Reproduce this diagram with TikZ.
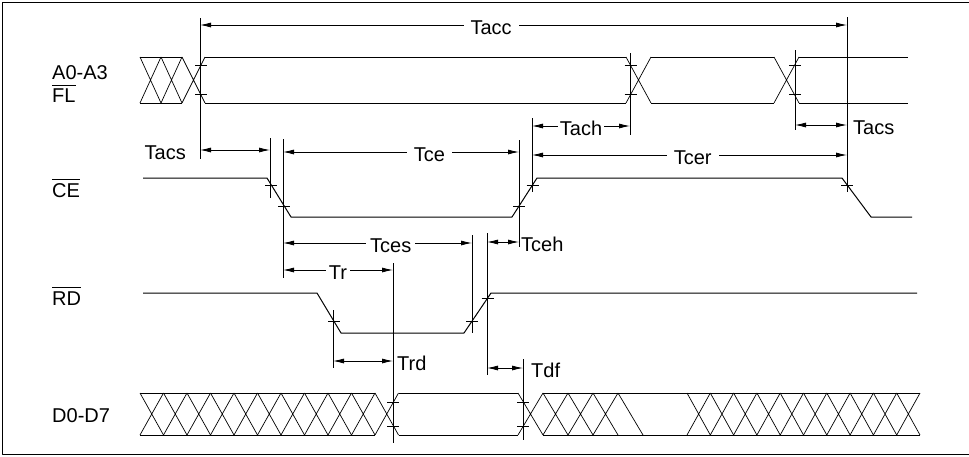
\documentclass[tikz,border=0pt]{standalone}
\usepackage{fontspec}
\setmainfont{Liberation Sans}
\usetikzlibrary{arrows.meta}
\newcommand{\barsig}[1]{\vbox{\hrule height 0.7pt\kern 3.5pt\hbox{#1}}}
\begin{document}
\begin{tikzpicture}[x=1pt, y=-1pt, line join=round,
    sig/.style={line width=1pt},
    ref/.style={line width=0.7pt},
    dim/.style={line width=0.8pt, {Latex[length=11pt,width=5pt]}-{Latex[length=11pt,width=5pt]}},
    lbl/.style={font=\fontsize{20}{24}\selectfont, inner sep=0pt},
    gap/.style={lbl, fill=white, inner xsep=7pt, yshift=-2.5pt}]
    \useasboundingbox (0,0) rectangle (969,456);
    \draw[line width=1.2pt] (972,2.5) -- (2.5,2.5) -- (2.5,454.5) -- (972,454.5);
    % signal names
    \node[lbl, anchor=base west] (a03) at (52,79) {A0-A3};
    \node[lbl, anchor=base west] (fl) at (52,102.5) {\barsig{FL}};
    \node[lbl, anchor=base west] (ce) at (52,197) {\barsig{CE}};
    \node[lbl, anchor=base west] (rd) at (52,305) {\barsig{RD}};
    \node[lbl, anchor=base west] (d07) at (52,422) {D0-D7};
    % address bus
    \draw[sig] (140,57) -- (182,57) (205,57) -- (626,57) (651,57) -- (774,57) (799,57) -- (908,57);
    \draw[sig] (140,103) -- (182,103) (205,103) -- (626,103) (651,103) -- (774,103) (799,103) -- (908,103);
    \foreach \x/\w in {140/21, 161/21, 182/23, 626/25, 774/25}
        \draw[ref] (\x,57) -- (\x+\w,103) (\x,103) -- (\x+\w,57);
    % CE and RD
    \draw[sig] (143,178) -- (267,178) -- (291,217) -- (512,217) -- (537,178) -- (842,178) -- (871,217) -- (912,217);
    \draw[sig] (143,293) -- (317,293) -- (341,333) -- (464,333) -- (491,293) -- (917,293);
    % data bus
    \draw[sig] (140,393) -- (375,393) (398.5,393) -- (518,393) (543,393) -- (920,393);
    \draw[sig] (140,435) -- (375,435) (398.5,435) -- (518,435) (543,435) -- (920,435);
    \foreach \i in {0,...,9}
        \draw[ref] (140+\i*23.5,393) -- (163.5+\i*23.5,435) (140+\i*23.5,435) -- (163.5+\i*23.5,393);
    \draw[ref] (375,393) -- (398.5,435) (375,435) -- (398.5,393);
    \draw[ref] (518,393) -- (543,435) (518,435) -- (543,393);
    \foreach \i in {0,1,2}
        \draw[ref] (543+\i*25,393) -- (568+\i*25,435) (543+\i*25,435) -- (568+\i*25,393);
    \draw[ref] (618,393) -- (643,435);
    \foreach \i in {0,...,9}
        \draw[ref] (687+\i*23.3,393) -- (710.3+\i*23.3,435) (687+\i*23.3,435) -- (710.3+\i*23.3,393);
    % reference lines
    \draw[ref] (200,18) -- (200,159);
    \draw[ref] (847,17) -- (847,192);
    \draw[ref] (630,53) -- (630,135);
    \draw[ref] (795,50) -- (795,130);
    \draw[ref] (532,118) -- (532,192);
    \draw[ref] (270,138) -- (270,198);
    \draw[ref] (283,139) -- (283,278);
    \draw[ref] (519,140) -- (519,247);
    \draw[ref] (472,235) -- (472,333);
    \draw[ref] (487,233) -- (487,375);
    \draw[ref] (393,263) -- (393,443);
    \draw[ref] (333,310) -- (333,368);
    \draw[ref] (523,359) -- (523,440);
    % ticks
    \foreach \x/\y in {201/65, 201/94, 630.5/65, 630.5/94, 795/65, 795/94,
        271/185, 284/206, 519/206, 532.5/185, 847/185,
        334/321, 472/321, 487.5/298,
        393/402, 393/426, 523/402, 523/426}
        \draw[ref] (\x-6,\y) -- (\x+6,\y);
    % timing
    \coordinate (acc1) at (200,25);   \coordinate (acc2) at (847,25);
    \coordinate (acs1) at (200,150);  \coordinate (acs2) at (270,150);
    \coordinate (ce1) at (283,152);   \coordinate (ce2) at (519,152);
    \coordinate (cer1) at (532,155);  \coordinate (cer2) at (847,155);
    \coordinate (ach1) at (532,126);  \coordinate (ach2) at (630,126);
    \coordinate (acs3) at (795,125);  \coordinate (acs4) at (847,125);
    \coordinate (ces1) at (283,243);  \coordinate (ces2) at (472,243);
    \coordinate (ceh1) at (487,242);  \coordinate (ceh2) at (519,242);
    \coordinate (r1) at (283,270);    \coordinate (r2) at (393,270);
    \coordinate (rd1) at (333,361);   \coordinate (rd2) at (393,361);
    \coordinate (df1) at (487,368);   \coordinate (df2) at (523,368);
    \draw[dim] (acc1) -- node[gap, pos=.45] (tacc) {Tacc} (acc2);
    \draw[dim] (acs1) -- (acs2);
    \node[lbl, anchor=east, yshift=-2.5pt] (tacs) at (186,150) {Tacs};
    \draw[dim] (ce1) -- node[gap, pos=.62] (tce) {Tce} (ce2);
    \draw[dim] (cer1) -- node[gap, pos=.51] (tcer) {Tcer} (cer2);
    \draw[dim] (ach1) -- node[gap, inner xsep=2pt, pos=.5] (tach) {Tach} (ach2);
    \draw[dim] (acs3) -- (acs4);
    \node[lbl, anchor=west, yshift=-2.5pt] (tacs2) at (853,125) {Tacs};
    \draw[dim] (ces1) -- node[gap, inner xsep=4pt, pos=.57] (tces) {Tces} (ces2);
    \draw[dim] (ceh1) -- (ceh2);
    \node[lbl, anchor=west, yshift=-2.5pt] (tceh) at (521,242) {Tceh};
    \draw[dim] (r1) -- node[gap, inner xsep=3pt, pos=.5] (tr) {Tr} (r2);
    \draw[dim] (rd1) -- (rd2);
    \node[lbl, anchor=west, yshift=-2.5pt] (trd) at (397,361) {Trd};
    \draw[dim] (df1) -- (df2);
    \node[lbl, anchor=west, yshift=-2.5pt] (tdf) at (531,368) {Tdf};
\end{tikzpicture}
\end{document}
